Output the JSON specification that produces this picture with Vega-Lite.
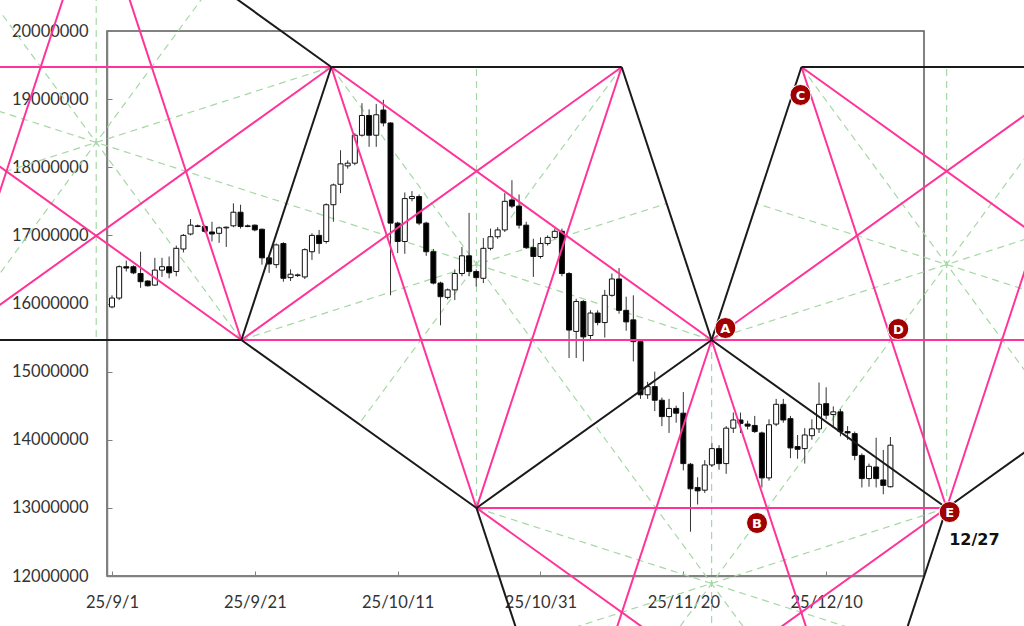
{
  "$schema": "https://vega.github.io/schema/vega-lite/v6.json",
  "width": 817,
  "height": 545,
  "autosize": {"type": "none"},
  "padding": {"left": 107, "top": 31, "right": 100, "bottom": 50},
  "background": "white",
  "config": {
    "view": {"stroke": "#5a5a5a", "strokeWidth": 1.5},
    "axis": {"grid": false, "domainColor": "#808080", "domainWidth": 1.5, "tickColor": "#808080", "tickSize": -5, "tickWidth": 1, "labelFont": "Lato", "labelFontSize": 16.5, "labelColor": "#333333"}
  },
  "datasets": {
    "candles": [
      {"d":0,"o":15950000,"h":16120000,"l":15930000,"c":16080000},
      {"d":1,"o":16080000,"h":16560000,"l":16050000,"c":16540000},
      {"d":2,"o":16540000,"h":16630000,"l":16470000,"c":16520000},
      {"d":3,"o":16540000,"h":16560000,"l":16430000,"c":16450000},
      {"d":4,"o":16440000,"h":16760000,"l":16230000,"c":16320000},
      {"d":5,"o":16330000,"h":16340000,"l":16250000,"c":16260000},
      {"d":6,"o":16270000,"h":16670000,"l":16260000,"c":16490000},
      {"d":7,"o":16490000,"h":16670000,"l":16390000,"c":16540000},
      {"d":8,"o":16540000,"h":16690000,"l":16370000,"c":16450000},
      {"d":9,"o":16470000,"h":16850000,"l":16400000,"c":16810000},
      {"d":10,"o":16800000,"h":17020000,"l":16750000,"c":17000000},
      {"d":11,"o":17020000,"h":17240000,"l":17000000,"c":17150000},
      {"d":12,"o":17140000,"h":17160000,"l":17120000,"c":17130000},
      {"d":13,"o":17130000,"h":17150000,"l":17040000,"c":17060000},
      {"d":14,"o":17050000,"h":17200000,"l":16910000,"c":17020000},
      {"d":15,"o":17030000,"h":17130000,"l":16890000,"c":17110000},
      {"d":16,"o":17110000,"h":17130000,"l":16830000,"c":17120000},
      {"d":17,"o":17140000,"h":17470000,"l":17120000,"c":17340000},
      {"d":18,"o":17340000,"h":17450000,"l":17100000,"c":17130000},
      {"d":19,"o":17140000,"h":17160000,"l":17120000,"c":17130000},
      {"d":20,"o":17150000,"h":17160000,"l":17060000,"c":17080000},
      {"d":21,"o":17090000,"h":17100000,"l":16570000,"c":16670000},
      {"d":22,"o":16670000,"h":16700000,"l":16450000,"c":16580000},
      {"d":23,"o":16570000,"h":16880000,"l":16520000,"c":16860000},
      {"d":24,"o":16880000,"h":16900000,"l":16320000,"c":16370000},
      {"d":25,"o":16380000,"h":16500000,"l":16330000,"c":16430000},
      {"d":26,"o":16410000,"h":16440000,"l":16390000,"c":16420000},
      {"d":27,"o":16390000,"h":16810000,"l":16360000,"c":16790000},
      {"d":28,"o":16760000,"h":17030000,"l":16640000,"c":17000000},
      {"d":29,"o":17000000,"h":17080000,"l":16730000,"c":16880000},
      {"d":30,"o":16910000,"h":17470000,"l":16880000,"c":17450000},
      {"d":31,"o":17450000,"h":17760000,"l":17200000,"c":17740000},
      {"d":32,"o":17750000,"h":18250000,"l":17620000,"c":18050000},
      {"d":33,"o":18020000,"h":18100000,"l":17980000,"c":18060000},
      {"d":34,"o":18060000,"h":18500000,"l":18030000,"c":18470000},
      {"d":35,"o":18470000,"h":18940000,"l":18450000,"c":18760000},
      {"d":36,"o":18760000,"h":18850000,"l":18300000,"c":18470000},
      {"d":37,"o":18470000,"h":18930000,"l":18300000,"c":18770000},
      {"d":38,"o":18840000,"h":18990000,"l":18600000,"c":18650000},
      {"d":39,"o":18650000,"h":18660000,"l":16120000,"c":17180000},
      {"d":40,"o":17180000,"h":17200000,"l":16740000,"c":16910000},
      {"d":41,"o":16910000,"h":17630000,"l":16730000,"c":17540000},
      {"d":42,"o":17540000,"h":17650000,"l":17500000,"c":17570000},
      {"d":43,"o":17570000,"h":17600000,"l":17150000,"c":17180000},
      {"d":44,"o":17180000,"h":17200000,"l":16700000,"c":16760000},
      {"d":45,"o":16760000,"h":16800000,"l":16280000,"c":16300000},
      {"d":46,"o":16300000,"h":16320000,"l":15680000,"c":16100000},
      {"d":47,"o":16090000,"h":16220000,"l":16060000,"c":16200000},
      {"d":48,"o":16200000,"h":16500000,"l":16050000,"c":16440000},
      {"d":49,"o":16440000,"h":16830000,"l":16400000,"c":16700000},
      {"d":50,"o":16700000,"h":17330000,"l":16400000,"c":16470000},
      {"d":51,"o":16470000,"h":16500000,"l":16250000,"c":16380000},
      {"d":52,"o":16370000,"h":16960000,"l":16300000,"c":16810000},
      {"d":53,"o":16810000,"h":17100000,"l":16780000,"c":16980000},
      {"d":54,"o":16980000,"h":17120000,"l":16950000,"c":17080000},
      {"d":55,"o":17080000,"h":17620000,"l":17050000,"c":17500000},
      {"d":56,"o":17520000,"h":17810000,"l":17400000,"c":17430000},
      {"d":57,"o":17430000,"h":17600000,"l":17100000,"c":17150000},
      {"d":58,"o":17150000,"h":17200000,"l":16800000,"c":16820000},
      {"d":59,"o":16820000,"h":16950000,"l":16390000,"c":16690000},
      {"d":60,"o":16690000,"h":16970000,"l":16660000,"c":16880000},
      {"d":61,"o":16880000,"h":17000000,"l":16850000,"c":16970000},
      {"d":62,"o":16970000,"h":17100000,"l":16950000,"c":17060000},
      {"d":63,"o":17060000,"h":17100000,"l":16400000,"c":16440000},
      {"d":64,"o":16440000,"h":16460000,"l":15200000,"c":15610000},
      {"d":65,"o":15590000,"h":16070000,"l":15200000,"c":16030000},
      {"d":66,"o":16030000,"h":16050000,"l":15150000,"c":15510000},
      {"d":67,"o":15530000,"h":15900000,"l":15480000,"c":15860000},
      {"d":68,"o":15860000,"h":15900000,"l":15680000,"c":15720000},
      {"d":69,"o":15720000,"h":16200000,"l":15500000,"c":16120000},
      {"d":70,"o":16120000,"h":16440000,"l":16100000,"c":16360000},
      {"d":71,"o":16360000,"h":16520000,"l":15850000,"c":15900000},
      {"d":72,"o":15900000,"h":16100000,"l":15600000,"c":15730000},
      {"d":73,"o":15760000,"h":16120000,"l":15150000,"c":15440000},
      {"d":74,"o":15440000,"h":15460000,"l":14600000,"c":14660000},
      {"d":75,"o":14660000,"h":14850000,"l":14600000,"c":14780000},
      {"d":76,"o":14780000,"h":15000000,"l":14420000,"c":14580000},
      {"d":77,"o":14580000,"h":14620000,"l":14200000,"c":14340000},
      {"d":78,"o":14340000,"h":14600000,"l":14100000,"c":14460000},
      {"d":79,"o":14460000,"h":14500000,"l":14250000,"c":14390000},
      {"d":80,"o":14390000,"h":14700000,"l":13550000,"c":13650000},
      {"d":81,"o":13640000,"h":13660000,"l":12650000,"c":13280000},
      {"d":82,"o":13300000,"h":13450000,"l":13050000,"c":13250000},
      {"d":83,"o":13260000,"h":13700000,"l":13220000,"c":13630000},
      {"d":84,"o":13630000,"h":13950000,"l":13600000,"c":13870000},
      {"d":85,"o":13870000,"h":13920000,"l":13560000,"c":13650000},
      {"d":86,"o":13650000,"h":14200000,"l":13500000,"c":14170000},
      {"d":87,"o":14170000,"h":14400000,"l":14100000,"c":14290000},
      {"d":88,"o":14290000,"h":14400000,"l":14100000,"c":14240000},
      {"d":89,"o":14230000,"h":14280000,"l":14150000,"c":14200000},
      {"d":90,"o":14210000,"h":14350000,"l":14100000,"c":14120000},
      {"d":91,"o":14100000,"h":14120000,"l":13300000,"c":13440000},
      {"d":92,"o":13440000,"h":14300000,"l":13400000,"c":14220000},
      {"d":93,"o":14230000,"h":14600000,"l":14200000,"c":14520000},
      {"d":94,"o":14520000,"h":14600000,"l":14250000,"c":14290000},
      {"d":95,"o":14310000,"h":14350000,"l":13730000,"c":13880000},
      {"d":96,"o":13900000,"h":14070000,"l":13720000,"c":13860000},
      {"d":97,"o":13870000,"h":14170000,"l":13650000,"c":14070000},
      {"d":98,"o":14060000,"h":14300000,"l":14000000,"c":14160000},
      {"d":99,"o":14160000,"h":14840000,"l":14100000,"c":14520000},
      {"d":100,"o":14530000,"h":14770000,"l":14300000,"c":14360000},
      {"d":101,"o":14370000,"h":14490000,"l":14200000,"c":14410000},
      {"d":102,"o":14410000,"h":14450000,"l":14050000,"c":14120000},
      {"d":103,"o":14120000,"h":14200000,"l":14000000,"c":14100000},
      {"d":104,"o":14090000,"h":14120000,"l":13700000,"c":13770000},
      {"d":105,"o":13770000,"h":13800000,"l":13300000,"c":13430000},
      {"d":106,"o":13430000,"h":13650000,"l":13310000,"c":13610000},
      {"d":107,"o":13600000,"h":14030000,"l":13300000,"c":13430000},
      {"d":108,"o":13410000,"h":13850000,"l":13200000,"c":13330000},
      {"d":109,"o":13310000,"h":14040000,"l":13300000,"c":13920000}
    ],
    "edges": [
      {"x1":-2.21,"y1":21952300,"x2":30.71,"y2":19471600},
      {"x1":30.71,"y1":19471600,"x2":18.12,"y2":15464200},
      {"x1":18.12,"y1":15464200,"x2":-22.54,"y2":15464200},
      {"x1":-22.54,"y1":15464200,"x2":-35.13,"y2":19471600},
      {"x1":-35.13,"y1":19471600,"x2":-2.21,"y2":21952300},
      {"x1":30.71,"y1":19471600,"x2":71.37,"y2":19471600},
      {"x1":71.37,"y1":19471600,"x2":83.96,"y2":15464200},
      {"x1":83.96,"y1":15464200,"x2":51.04,"y2":12998200},
      {"x1":51.04,"y1":12998200,"x2":18.12,"y2":15464200},
      {"x1":96.54,"y1":19471600,"x2":137.21,"y2":19471600},
      {"x1":137.21,"y1":19471600,"x2":149.79,"y2":15464200},
      {"x1":149.79,"y1":15464200,"x2":116.87,"y2":12998200},
      {"x1":116.87,"y1":12998200,"x2":83.96,"y2":15464200},
      {"x1":83.96,"y1":15464200,"x2":96.54,"y2":19471600},
      {"x1":116.87,"y1":12998200,"x2":104.29,"y2":8990800},
      {"x1":104.29,"y1":8990800,"x2":63.62,"y2":8990800},
      {"x1":63.62,"y1":8990800,"x2":51.04,"y2":12998200}
    ],
    "diagonals": [
      {"x1":-35.13,"y1":19471600,"x2":30.71,"y2":19471600},
      {"x1":-35.13,"y1":19471600,"x2":18.12,"y2":15464200},
      {"x1":-2.21,"y1":21952300,"x2":18.12,"y2":15464200},
      {"x1":-2.21,"y1":21952300,"x2":-22.54,"y2":15464200},
      {"x1":30.71,"y1":19471600,"x2":-22.54,"y2":15464200},
      {"x1":30.71,"y1":19471600,"x2":83.96,"y2":15464200},
      {"x1":30.71,"y1":19471600,"x2":51.04,"y2":12998200},
      {"x1":71.37,"y1":19471600,"x2":18.12,"y2":15464200},
      {"x1":71.37,"y1":19471600,"x2":51.04,"y2":12998200},
      {"x1":18.12,"y1":15464200,"x2":83.96,"y2":15464200},
      {"x1":96.54,"y1":19471600,"x2":149.79,"y2":15464200},
      {"x1":96.54,"y1":19471600,"x2":116.87,"y2":12998200},
      {"x1":137.21,"y1":19471600,"x2":83.96,"y2":15464200},
      {"x1":137.21,"y1":19471600,"x2":116.87,"y2":12998200},
      {"x1":83.96,"y1":15464200,"x2":149.79,"y2":15464200},
      {"x1":51.04,"y1":12998200,"x2":116.87,"y2":12998200},
      {"x1":83.96,"y1":15464200,"x2":63.62,"y2":8990800},
      {"x1":83.96,"y1":15464200,"x2":104.29,"y2":8990800},
      {"x1":51.04,"y1":12998200,"x2":104.29,"y2":8990800},
      {"x1":116.87,"y1":12998200,"x2":63.62,"y2":8990800}
    ],
    "axes": [
      {"x1":-2.21,"y1":21952300,"x2":-2.21,"y2":15464200},
      {"x1":30.71,"y1":19471600,"x2":-28.84,"y2":17467900},
      {"x1":-35.13,"y1":19471600,"x2":24.41,"y2":17467900},
      {"x1":18.12,"y1":15464200,"x2":-18.67,"y2":20711900},
      {"x1":-22.54,"y1":15464200,"x2":14.25,"y2":20711900},
      {"x1":51.04,"y1":12998200,"x2":51.04,"y2":19471600},
      {"x1":30.71,"y1":19471600,"x2":67.5,"y2":14231200},
      {"x1":71.37,"y1":19471600,"x2":34.58,"y2":14231200},
      {"x1":83.96,"y1":15464200,"x2":24.41,"y2":17467900},
      {"x1":18.12,"y1":15464200,"x2":77.66,"y2":17467900},
      {"x1":83.96,"y1":15464200,"x2":83.96,"y2":8990800},
      {"x1":116.87,"y1":12998200,"x2":57.33,"y2":10994500},
      {"x1":51.04,"y1":12998200,"x2":110.58,"y2":10994500},
      {"x1":104.29,"y1":8990800,"x2":67.5,"y2":14231200},
      {"x1":63.62,"y1":8990800,"x2":100.41,"y2":14231200},
      {"x1":116.87,"y1":12998200,"x2":116.87,"y2":19471600},
      {"x1":96.54,"y1":19471600,"x2":133.33,"y2":14231200},
      {"x1":137.21,"y1":19471600,"x2":100.41,"y2":14231200},
      {"x1":149.79,"y1":15464200,"x2":90.25,"y2":17467900},
      {"x1":83.96,"y1":15464200,"x2":143.5,"y2":17467900}
    ],
    "marks": [
      {"t":"A","x":85.89,"y":15640000},
      {"t":"B","x":90.32,"y":12778000},
      {"t":"C","x":96.4,"y":19061000},
      {"t":"D","x":110.1,"y":15626000},
      {"t":"E","x":117.29,"y":12939000}
    ],
    "notes": [
      {"t":"12/27","x":120.75,"y":12528000}
    ]
  },
  "layer": [
    {
      "data": {"name": "axes"},
      "mark": {"type": "rule", "clip": false, "color": "#a6d8a6", "strokeWidth": 1.2, "strokeDash": [7, 5]},
      "encoding": {
        "x": {"field": "x1", "type": "quantitative", "title": null, "scale": {"domain": [0, 113], "nice": false, "zero": false},
              "axis": {"values": [0, 20, 40, 60, 80, 100], "labelExpr": "timeFormat(datetime(2025, 8, 1 + datum.value), '%y/%-m/%-d')", "labelFlush": false, "labelPadding": 23}},
        "y": {"field": "y1", "type": "quantitative", "title": null, "scale": {"domain": [12000000, 20000000], "nice": false, "zero": false},
              "axis": {"values": [12000000, 13000000, 14000000, 15000000, 16000000, 17000000, 18000000, 19000000, 20000000], "format": "d", "labelPadding": 24}},
        "x2": {"field": "x2"},
        "y2": {"field": "y2"}
      }
    },
    {
      "data": {"name": "candles"},
      "mark": {"type": "rule", "color": "#333333", "strokeWidth": 1},
      "encoding": {
        "x": {"field": "d", "type": "quantitative", "title": null, "scale": {"domain": [0, 113], "nice": false, "zero": false}},
        "y": {"field": "l", "type": "quantitative", "title": null, "scale": {"domain": [12000000, 20000000], "nice": false, "zero": false}},
        "y2": {"field": "h"}
      }
    },
    {
      "data": {"name": "candles"},
      "mark": {"type": "bar", "size": 5, "stroke": "#111111", "strokeWidth": 1},
      "encoding": {
        "x": {"field": "d", "type": "quantitative", "title": null, "scale": {"domain": [0, 113], "nice": false, "zero": false}},
        "y": {"field": "o", "type": "quantitative", "title": null, "scale": {"domain": [12000000, 20000000], "nice": false, "zero": false}},
        "y2": {"field": "c"},
        "fill": {"condition": {"test": "datum.c >= datum.o", "value": "#ffffff"}, "value": "#000000"}
      }
    },
    {
      "data": {"name": "diagonals"},
      "mark": {"type": "rule", "clip": false, "color": "#ff3399", "strokeWidth": 2},
      "encoding": {
        "x": {"field": "x1", "type": "quantitative", "title": null, "scale": {"domain": [0, 113], "nice": false, "zero": false}},
        "y": {"field": "y1", "type": "quantitative", "title": null, "scale": {"domain": [12000000, 20000000], "nice": false, "zero": false}},
        "x2": {"field": "x2"},
        "y2": {"field": "y2"}
      }
    },
    {
      "data": {"name": "edges"},
      "mark": {"type": "rule", "clip": false, "color": "#1a1a1a", "strokeWidth": 2},
      "encoding": {
        "x": {"field": "x1", "type": "quantitative", "title": null, "scale": {"domain": [0, 113], "nice": false, "zero": false}},
        "y": {"field": "y1", "type": "quantitative", "title": null, "scale": {"domain": [12000000, 20000000], "nice": false, "zero": false}},
        "x2": {"field": "x2"},
        "y2": {"field": "y2"}
      }
    },
    {
      "data": {"name": "marks"},
      "mark": {"type": "point", "shape": "circle", "filled": true, "clip": false, "size": 440, "color": "#a00000", "stroke": "#ffffff", "strokeWidth": 1, "opacity": 1},
      "encoding": {
        "x": {"field": "x", "type": "quantitative", "title": null, "scale": {"domain": [0, 113], "nice": false, "zero": false}},
        "y": {"field": "y", "type": "quantitative", "title": null, "scale": {"domain": [12000000, 20000000], "nice": false, "zero": false}}
      }
    },
    {
      "data": {"name": "marks"},
      "mark": {"type": "text", "clip": false, "font": "DejaVu Sans", "fontWeight": "bold", "fontSize": 13, "color": "#ffffff", "align": "center", "baseline": "middle", "dy": 1},
      "encoding": {
        "x": {"field": "x", "type": "quantitative", "title": null, "scale": {"domain": [0, 113], "nice": false, "zero": false}},
        "y": {"field": "y", "type": "quantitative", "title": null, "scale": {"domain": [12000000, 20000000], "nice": false, "zero": false}},
        "text": {"field": "t"}
      }
    },
    {
      "data": {"name": "notes"},
      "mark": {"type": "text", "clip": false, "font": "DejaVu Sans", "fontWeight": "bold", "fontSize": 16, "color": "#111111", "align": "center", "baseline": "middle"},
      "encoding": {
        "x": {"field": "x", "type": "quantitative", "title": null, "scale": {"domain": [0, 113], "nice": false, "zero": false}},
        "y": {"field": "y", "type": "quantitative", "title": null, "scale": {"domain": [12000000, 20000000], "nice": false, "zero": false}},
        "text": {"field": "t"}
      }
    }
  ]
}
